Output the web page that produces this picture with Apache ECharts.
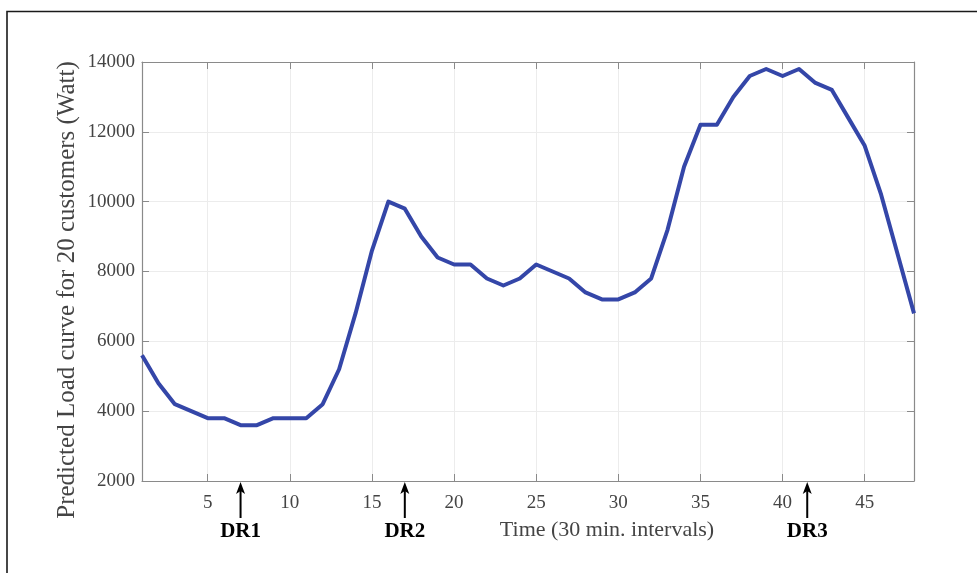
<!DOCTYPE html>
<html>
<head>
<meta charset="utf-8">
<script src="https://cdn.jsdelivr.net/npm/echarts@6/dist/echarts.min.js"></script>
<style>
  html, body { margin: 0; padding: 0; background: #ffffff; }
  #chart { width: 977px; height: 573px; }
</style>
</head>
<body>
<div id="chart"></div>
<script>
// Half-hour interval index (1..48)
const intervals = Array.from({ length: 48 }, (_, i) => String(i + 1));

// Predicted aggregate load for 20 customers, in watts
const loadWatt = [
  5600, 4800, 4200, 4000, 3800, 3800, 3600, 3600, 3800, 3800,
  3800, 4200, 5200, 6800, 8600, 10000, 9800, 9000, 8400, 8200,
  8200, 7800, 7600, 7800, 8200, 8000, 7800, 7400, 7200, 7200,
  7400, 7800, 9200, 11000, 12200, 12200, 13000, 13600, 13800, 13600,
  13800, 13400, 13200, 12400, 11600, 10200, 8500, 6800
];

// Demand-response events, marked below the time axis
const drIntervals = [7, 17, 41.5];
const drLabels = ['DR1', 'DR2', 'DR3'];

// Axis ranges and tick spacing
const yMin = 2000, yMax = 14000, yStep = 2000;
const xTickStep = 5;

const serif = '"Liberation Serif", "Times New Roman", serif';
const axisGray = '#8a8a8a';
const labelGray = '#444444';
const lineBlue = '#3446a8';

const everyFifth = (idx, val) => Number(val) % xTickStep === 0;

const chart = echarts.init(document.getElementById('chart'), null, { renderer: 'canvas' });

chart.setOption({
  backgroundColor: '#ffffff',
  animation: false,
  grid: { left: 142, right: 63, top: 62, bottom: 92, containLabel: false },
  xAxis: [
    {
      type: 'category',
      data: intervals,
      boundaryGap: false,
      position: 'bottom',
      axisLine: { show: true, lineStyle: { color: axisGray, width: 1.2 } },
      axisTick: { show: true, inside: true, length: 7, interval: everyFifth, lineStyle: { color: axisGray } },
      axisLabel: {
        interval: everyFifth,
        color: labelGray, fontFamily: serif, fontSize: 19, margin: 13
      },
      splitLine: { show: true, interval: everyFifth, lineStyle: { color: '#ececec', width: 1 } }
    },
    {
      type: 'category',
      data: intervals,
      boundaryGap: false,
      position: 'top',
      axisLine: { show: true, lineStyle: { color: axisGray, width: 1.2 } },
      axisTick: { show: true, inside: true, length: 7, interval: everyFifth, lineStyle: { color: axisGray } },
      axisLabel: { show: false },
      splitLine: { show: false }
    },
    {
      // hidden numeric axis used to place the DR markers between samples
      type: 'value',
      min: 1,
      max: 48,
      show: false
    }
  ],
  yAxis: [
    {
      type: 'value',
      min: yMin, max: yMax, interval: yStep,
      position: 'left',
      axisLine: { show: true, lineStyle: { color: axisGray, width: 1.2 } },
      axisTick: { show: true, inside: true, length: 7, lineStyle: { color: axisGray } },
      axisLabel: {
        color: labelGray, fontFamily: serif, fontSize: 19, margin: 7,
        formatter: (v) => String(v)
      },
      splitLine: { show: true, lineStyle: { color: '#ececec', width: 1 } }
    },
    {
      type: 'value',
      min: yMin, max: yMax, interval: yStep,
      position: 'right',
      axisLine: { show: true, lineStyle: { color: axisGray, width: 1.2 } },
      axisTick: { show: true, inside: true, length: 7, lineStyle: { color: axisGray } },
      axisLabel: { show: false },
      splitLine: { show: false }
    }
  ],
  series: [
    {
      type: 'line',
      name: 'Predicted load',
      xAxisIndex: 0,
      yAxisIndex: 0,
      data: loadWatt,
      showSymbol: false,
      symbol: 'none',
      lineStyle: { color: lineBlue, width: 4, join: 'round' },
      z: 5
    },
    {
      type: 'custom',
      name: 'DR events',
      xAxisIndex: 2,
      yAxisIndex: 0,
      clip: false,
      data: drIntervals.map((x, i) => [x, yMin, i]),
      renderItem: function (params, api) {
        const p = api.coord([api.value(0), api.value(1)]);
        const label = drLabels[api.value(2)];
        const tipY = p[1] + 1;
        return {
          type: 'group',
          children: [
            {
              type: 'line',
              shape: { x1: p[0], y1: tipY + 6, x2: p[0], y2: tipY + 36 },
              style: { stroke: '#000000', lineWidth: 2 }
            },
            {
              type: 'polygon',
              shape: { points: [[p[0], tipY], [p[0] - 4.5, tipY + 12], [p[0], tipY + 9], [p[0] + 4.5, tipY + 12]] },
              style: { fill: '#000000' }
            },
            {
              type: 'text',
              style: {
                text: label,
                x: p[0], y: tipY + 50,
                align: 'center', verticalAlign: 'middle',
                font: 'bold 21px ' + serif,
                fill: '#000000'
              }
            }
          ]
        };
      },
      z: 6
    }
  ],
  graphic: [
    {
      type: 'rect',
      shape: { x: 7, y: 11.5, width: 1000, height: 600 },
      style: { fill: 'none', stroke: '#1a1a1a', lineWidth: 1.6 },
      silent: true
    },
    {
      type: 'text',
      x: 607, y: 530,
      style: {
        text: 'Time (30 min. intervals)',
        align: 'center', verticalAlign: 'middle',
        font: '22px ' + serif,
        fill: labelGray
      }
    },
    {
      type: 'text',
      x: 67, y: 290,
      rotation: Math.PI / 2,
      style: {
        text: 'Predicted Load curve for 20 customers (Watt)',
        align: 'center', verticalAlign: 'middle',
        font: '25px ' + serif,
        fill: labelGray
      }
    }
  ]
});
</script>
</body>
</html>
